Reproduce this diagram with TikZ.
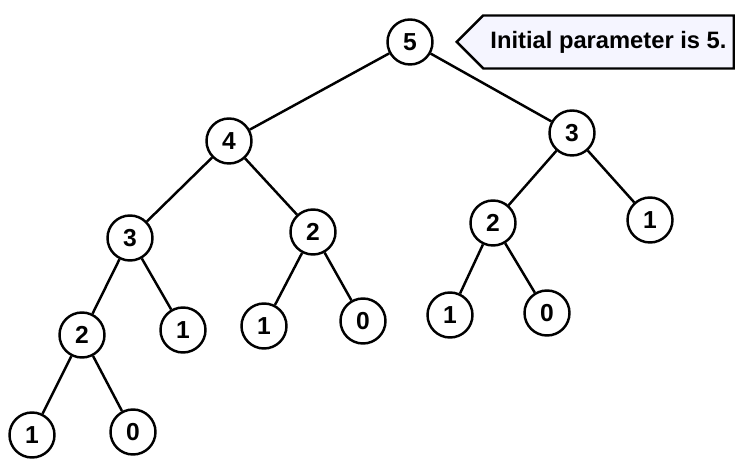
\documentclass[tikz,border=0pt]{standalone}
\usepackage{fontspec}
\setmainfont{Liberation Sans}
\usetikzlibrary{positioning, shapes.symbols}

\begin{document}
\begin{tikzpicture}[
    call/.style={draw, circle, line width=1.4pt, minimum size=0.9cm, inner sep=0pt, font=\fontsize{14}{16}\selectfont\bfseries},
    edge/.style={line width=1.4pt}]
  \useasboundingbox (0,0) rectangle (14.76,9.48);

  \node[call] (f5) at (8.2,8.64) {5};
  \node[call] (f4) at (4.58,6.66) {4};
  \node[call] (f3r) at (11.44,6.82) {3};
  \node[call] (f3l) at (2.6,4.72) {3};
  \node[call] (f2m) at (6.26,4.84) {2};
  \node[call] (f2r) at (9.86,5.02) {2};
  \node[call] (f1r) at (13.0,5.08) {1};
  \node[call] (f2l) at (1.64,2.78) {2};
  \node[call] (f1a) at (3.66,2.88) {1};
  \node[call] (f1b) at (5.28,2.96) {1};
  \node[call] (f0b) at (7.26,3.06) {0};
  \node[call] (f1c) at (9.0,3.18) {1};
  \node[call] (f0c) at (10.94,3.22) {0};
  \node[call] (f1d) at (0.64,0.78) {1};
  \node[call] (f0d) at (2.66,0.84) {0};

  \node[draw, signal, signal to=west, line width=1.4pt, fill=blue!4, minimum height=1.06cm,
        minimum width=5.54cm, inner xsep=2pt, anchor=west,
        font=\fontsize{13.5}{16}\selectfont\bfseries] (note) at (9.1,8.64) {\hfill Initial parameter is 5.};

  \draw[edge] (f5) -- (f4);
  \draw[edge] (f5) -- (f3r);
  \draw[edge] (f4) -- (f3l);
  \draw[edge] (f4) -- (f2m);
  \draw[edge] (f3r) -- (f2r);
  \draw[edge] (f3r) -- (f1r);
  \draw[edge] (f3l) -- (f2l);
  \draw[edge] (f3l) -- (f1a);
  \draw[edge] (f2m) -- (f1b);
  \draw[edge] (f2m) -- (f0b);
  \draw[edge] (f2r) -- (f1c);
  \draw[edge] (f2r) -- (f0c);
  \draw[edge] (f2l) -- (f1d);
  \draw[edge] (f2l) -- (f0d);
\end{tikzpicture}
\end{document}
